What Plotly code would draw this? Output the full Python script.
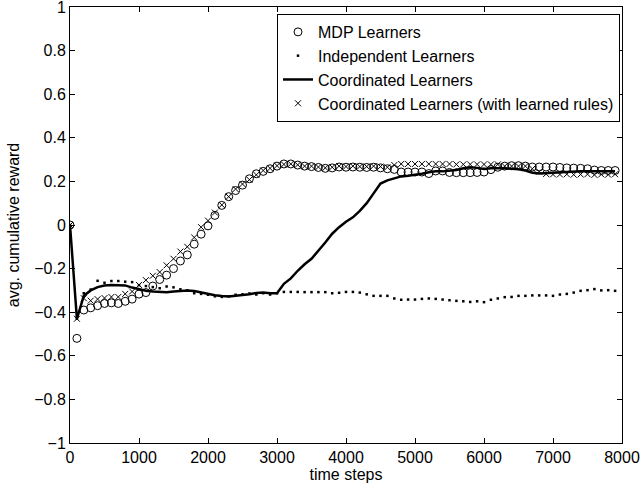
import plotly.graph_objects as go

steps = list(range(0, 8000, 100))

mdp = [0, -0.52, -0.39, -0.38, -0.37, -0.36, -0.357, -0.36, -0.35, -0.34,
       -0.317, -0.31, -0.28, -0.25, -0.23, -0.20, -0.165, -0.137, -0.088, -0.042,
       -0.004, 0.044, 0.09, 0.13, 0.158, 0.183, 0.212, 0.235, 0.246, 0.258,
       0.27, 0.28, 0.28, 0.275, 0.27, 0.268, 0.264, 0.26, 0.262, 0.266,
       0.265, 0.266, 0.265, 0.264, 0.265, 0.262, 0.258, 0.255, 0.243, 0.243,
       0.243, 0.243, 0.236, 0.248, 0.248, 0.241, 0.24, 0.24, 0.24, 0.241,
       0.243, 0.254, 0.265, 0.27, 0.272, 0.272, 0.27, 0.266, 0.266, 0.266,
       0.266, 0.264, 0.262, 0.261, 0.26, 0.258, 0.252, 0.25, 0.25, 0.25]

independent = [0, -0.43, -0.313, -0.296, -0.256, -0.265, -0.257, -0.257, -0.26, -0.262,
               -0.276, -0.28, -0.285, -0.29, -0.282, -0.286, -0.295, -0.30, -0.313, -0.316,
               -0.32, -0.327, -0.33, -0.327, -0.32, -0.318, -0.314, -0.319, -0.313, -0.319,
               -0.313, -0.307, -0.307, -0.307, -0.308, -0.308, -0.308, -0.308, -0.313, -0.311,
               -0.307, -0.307, -0.31, -0.318, -0.325, -0.325, -0.325, -0.337, -0.343, -0.342,
               -0.342, -0.339, -0.337, -0.339, -0.342, -0.345, -0.348, -0.35, -0.353, -0.35,
               -0.354, -0.343, -0.337, -0.331, -0.33, -0.325, -0.325, -0.323, -0.323, -0.323,
               -0.325, -0.319, -0.316, -0.31, -0.302, -0.299, -0.294, -0.30, -0.299, -0.302]

coordinated = [0, -0.43, -0.325, -0.30, -0.285, -0.278, -0.275, -0.275, -0.277, -0.287,
               -0.296, -0.302, -0.305, -0.307, -0.308, -0.305, -0.302, -0.30, -0.303, -0.31,
               -0.317, -0.322, -0.326, -0.328, -0.325, -0.322, -0.318, -0.312, -0.31, -0.313,
               -0.313, -0.27, -0.245, -0.21, -0.18, -0.155, -0.12, -0.08, -0.04, -0.01,
               0.015, 0.035, 0.065, 0.10, 0.145, 0.19, 0.205, 0.215, 0.223, 0.226,
               0.23, 0.235, 0.242, 0.246, 0.246, 0.248, 0.252, 0.26, 0.265, 0.262,
               0.257, 0.26, 0.261, 0.26, 0.258, 0.256, 0.25, 0.24, 0.236, 0.238,
               0.241, 0.243, 0.244, 0.245, 0.246, 0.246, 0.246, 0.246, 0.246, 0.246]

coord_rules = [0, -0.43, -0.336, -0.347, -0.34, -0.335, -0.33, -0.33, -0.316, -0.305,
               -0.275, -0.253, -0.233, -0.216, -0.185, -0.155, -0.122, -0.10, -0.057, -0.01,
               0.02, 0.057, 0.092, 0.13, 0.165, 0.188, 0.208, 0.23, 0.25, 0.26,
               0.272, 0.278, 0.28, 0.276, 0.27, 0.27, 0.266, 0.262, 0.265, 0.27,
               0.268, 0.27, 0.268, 0.268, 0.27, 0.268, 0.265, 0.275, 0.28, 0.28,
               0.28, 0.28, 0.28, 0.28, 0.28, 0.28, 0.278, 0.278, 0.278, 0.278,
               0.278, 0.278, 0.278, 0.27, 0.27, 0.27, 0.27, 0.258, 0.245, 0.234,
               0.232, 0.232, 0.233, 0.231, 0.232, 0.233, 0.23, 0.232, 0.231, 0.233]

x_ticks = [0, 1000, 2000, 3000, 4000, 5000, 6000, 7000, 8000]
y_ticks = [-1, -0.8, -0.6, -0.4, -0.2, 0, 0.2, 0.4, 0.6, 0.8, 1]

FONT = "Liberation Sans, Arial, sans-serif"

fig = go.Figure()
fig.add_trace(go.Scatter(x=steps, y=mdp, mode="markers", name="MDP Learners",
                         marker=dict(symbol="circle-open", size=8, color="black",
                                     line=dict(width=1, color="black"))))
fig.add_trace(go.Scatter(x=steps, y=independent, mode="markers", name="Independent Learners",
                         marker=dict(symbol="square", size=2.5, color="black",
                                     line=dict(width=0))))
fig.add_trace(go.Scatter(x=steps, y=coordinated, mode="lines", name="Coordinated Learners",
                         line=dict(color="black", width=2.5)))
fig.add_trace(go.Scatter(x=steps, y=coord_rules, mode="markers",
                         name="Coordinated Learners (with learned rules)",
                         marker=dict(symbol="x-thin-open", size=6, color="black",
                                     line=dict(width=1, color="black"))))

axis_common = dict(showgrid=False, zeroline=False, showline=True, linecolor="black",
                   linewidth=1, mirror="ticks", ticks="inside", ticklen=5,
                   tickcolor="black", automargin=False, ticklabeloverflow="allow",
                   tickfont=dict(family=FONT, size=16, color="black"))

fig.update_xaxes(range=[0, 8000], tickvals=x_ticks, ticktext=[str(v) for v in x_ticks],
                 title=dict(text="time steps", font=dict(family=FONT, size=16, color="black"),
                            standoff=0),
                 **axis_common)
fig.update_yaxes(range=[-1, 1], tickvals=y_ticks,
                 ticktext=[("\u2212" if v < 0 else "") + ("%g" % abs(v)) for v in y_ticks],
                 title=dict(text="avg. cumulative reward",
                            font=dict(family=FONT, size=16, color="black"), standoff=10),
                 **axis_common)

fig.update_layout(
    width=640, height=486,
    margin=dict(l=70, r=18, t=7, b=43),
    paper_bgcolor="white", plot_bgcolor="white",
    font=dict(family=FONT, size=16, color="black"),
    showlegend=True,
    legend=dict(x=0.9964, xanchor="right", y=0.984, yanchor="top",
                bgcolor="white", bordercolor="black", borderwidth=1,
                font=dict(family=FONT, size=16, color="black"),
                tracegroupgap=0, itemwidth=30),
)

fig.write_html("out.html", config={"displayModeBar": False},
               post_script="document.body.style.margin='0px';document.body.style.padding='0px';")
